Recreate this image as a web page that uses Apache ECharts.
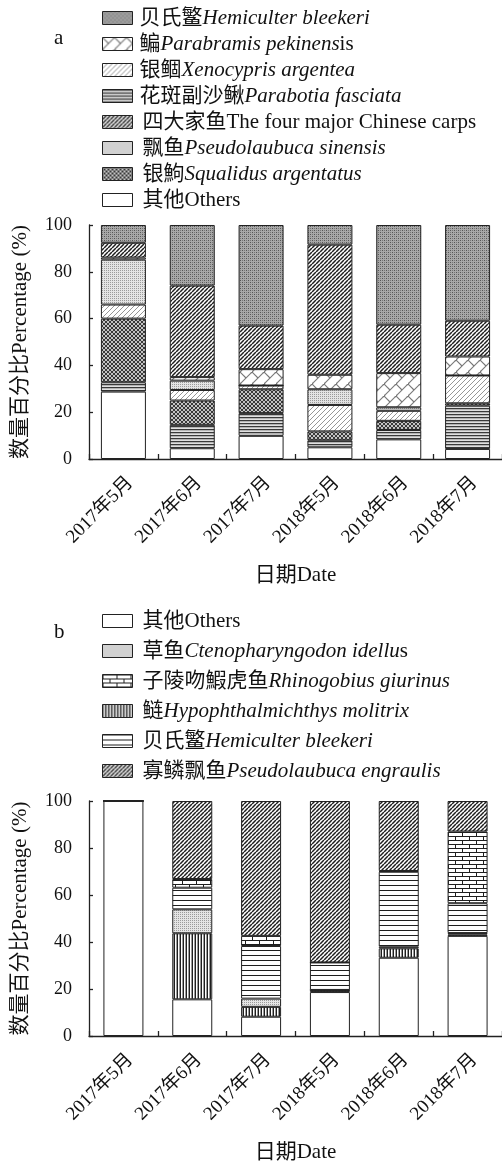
<!DOCTYPE html>
<html>
<head>
<meta charset="utf-8">
<script src="https://cdn.jsdelivr.net/npm/echarts@6/dist/echarts.min.js"></script>
<style>
  html, body { margin: 0; padding: 0; background: #fff; }
  #chartA { position: absolute; left: 0; top: 0; width: 502px; height: 600px; }
  #chartB { position: absolute; left: 0; top: 600px; width: 502px; height: 565px; }
</style>
</head>
<body>
<div id="chartA"></div>
<div id="chartB"></div>
<script>
// ---- data ----
const dates = ['2017年5月', '2017年6月', '2017年7月', '2018年5月', '2018年6月', '2018年7月'];

// Panel a: percentage of catch by number (stacked bottom -> top)
const aOthers     = [28.8, 4.6, 9.9, 5.0, 8.4, 4.3];
const aParabotia  = [4.0, 10.0, 9.7, 3.0, 4.0, 18.5];
const aSqualidus  = [27.2, 10.4, 10.2, 3.8, 3.9, 1.0];
const aXenocypris = [6.0, 4.5, 1.6, 11.3, 4.3, 11.9];
const aSinensis   = [19.2, 4.0, 0, 6.7, 1.5, 0];
const aParabramis = [0.9, 1.5, 7.0, 6.2, 14.6, 8.1];
const aCarps      = [6.3, 39.1, 18.6, 55.6, 20.7, 15.3];
const aHemiculter = [7.6, 25.9, 43.0, 8.4, 42.6, 40.9];

// Panel b
const bOthers      = [100, 15.6, 8.2, 18.7, 33.3, 42.6];
const bSilverCarp  = [0, 28.1, 4.2, 0.9, 4.0, 0.6];
const bGrassCarp   = [0, 10.2, 3.5, 0, 0.7, 0.6];
const bHemiculter  = [0, 9.2, 22.4, 11.7, 31.9, 12.7];
const bRhinogobius = [0, 3.7, 4.3, 0, 0.3, 30.5];
const bEngraulis   = [0, 33.2, 57.4, 68.7, 29.8, 13.0];

const yTicks = [0, 20, 40, 60, 80, 100];

// ---- fill patterns ----
function tile(w, h, draw) {
  const c = document.createElement('canvas');
  c.width = w; c.height = h;
  const g = c.getContext('2d');
  draw(g, w, h);
  return { image: c, repeat: 'repeat' };
}
function px(g, x, y, col) { g.fillStyle = col; g.fillRect(x, y, 1, 1); }
function diag(g, s, col, lw) {
  g.strokeStyle = col; g.lineWidth = lw;
  for (let k = -1; k <= 1; k++) {
    g.beginPath(); g.moveTo(k * s, s); g.lineTo(k * s + s, 0); g.stroke();
  }
}
const patWhite = '#ffffff';
const patGreyDots = tile(4, 4, (g) => {
  g.fillStyle = '#a8a8a8'; g.fillRect(0, 0, 4, 4);
  px(g, 0, 0, '#555'); px(g, 2, 2, '#555'); px(g, 2, 0, '#777'); px(g, 0, 2, '#777');
});
const patTrellis = tile(12, 12, (g) => {
  g.fillStyle = '#fff'; g.fillRect(0, 0, 12, 12);
  g.strokeStyle = '#777'; g.lineWidth = 1.1;
  g.beginPath(); g.moveTo(0, 12); g.lineTo(12, 0); g.stroke();
  g.beginPath(); g.moveTo(-1, 13); g.lineTo(1, 11); g.stroke();
  g.beginPath(); g.moveTo(11, 1); g.lineTo(13, -1); g.stroke();
  g.beginPath(); g.moveTo(0, 0); g.lineTo(6, 6); g.stroke();
});
const patLightDiag = tile(5, 5, (g) => {
  g.fillStyle = '#fff'; g.fillRect(0, 0, 5, 5);
  diag(g, 5, '#8a8a8a', 0.9);
});
const patDenseHoriz = tile(1, 3, (g) => {
  g.fillStyle = '#3a3a3a'; g.fillRect(0, 0, 1, 1);
  g.fillStyle = '#b4b4b4'; g.fillRect(0, 1, 1, 1);
  g.fillStyle = '#e0e0e0'; g.fillRect(0, 2, 1, 1);
});
const patDarkDiag = tile(4, 4, (g) => {
  g.fillStyle = '#fff'; g.fillRect(0, 0, 4, 4);
  diag(g, 4, '#1e1e1e', 1.5);
});
const patLightDots = tile(2, 2, (g) => {
  g.fillStyle = '#e4e4e4'; g.fillRect(0, 0, 2, 2);
  px(g, 0, 0, '#9a9a9a');
});
const patDarkWeave = tile(4, 4, (g) => {
  g.fillStyle = '#c4c4c4'; g.fillRect(0, 0, 4, 4);
  for (let i = 0; i < 4; i++) { px(g, i, i, '#3a3a3a'); px(g, i, 3 - i, '#3a3a3a'); }
});
const patBrick = tile(14, 8, (g) => {
  g.fillStyle = '#fff'; g.fillRect(0, 0, 14, 8);
  g.fillStyle = '#1e1e1e';
  g.fillRect(0, 0, 14, 1); g.fillRect(0, 4, 14, 1);
  g.fillRect(0, 0, 1, 4); g.fillRect(7, 4, 1, 4);
});
const patVert = tile(3, 1, (g) => {
  g.fillStyle = '#1e1e1e'; g.fillRect(0, 0, 1, 1);
  g.fillStyle = '#ffffff'; g.fillRect(1, 0, 1, 1);
  g.fillStyle = '#9a9a9a'; g.fillRect(2, 0, 1, 1);
});
const patSparseHoriz = tile(1, 5, (g) => {
  g.fillStyle = '#fff'; g.fillRect(0, 0, 1, 5);
  g.fillStyle = '#1e1e1e'; g.fillRect(0, 0, 1, 1);
});

// ---- shared styling ----
const FONT = '"Liberation Serif", "Times New Roman", "Noto Sans CJK SC", serif';
const INK = '#111';
const rich = {
  i: { fontFamily: FONT, fontSize: 21, fontStyle: 'italic', color: INK, lineHeight: 22 },
  p: { fontFamily: FONT, fontSize: 12, lineHeight: 22 }
};

function buildOption(cfg) {
  const series = cfg.layers.map((L) => ({
    name: L.name,
    type: 'bar',
    stack: 'total',
    barWidth: cfg.barWidth,
    data: L.data,
    itemStyle: { color: L.fill, borderColor: '#222', borderWidth: 1 },
    emphasis: { disabled: true },
    animation: false
  }));
  const labelOf = {};
  cfg.layers.forEach((L) => { labelOf[L.name] = L.label; });
  return {
    animation: false,
    textStyle: { fontFamily: FONT, color: INK },
    graphic: [{
      type: 'text', left: 54, top: cfg.tagTop,
      style: { text: cfg.tag, fontFamily: FONT, fontSize: 21, fill: INK }
    }],
    legend: {
      orient: 'vertical',
      left: 102,
      top: cfg.legendTop,
      padding: 0,
      itemGap: cfg.legendGap,
      itemWidth: 30,
      itemHeight: 13,
      icon: 'rect',
      selectedMode: false,
      data: cfg.legendOrder,
      itemStyle: { borderColor: '#222', borderWidth: 1 },
      textStyle: { fontFamily: FONT, fontSize: 21, color: INK, lineHeight: 22, padding: [0, 0, 0, 2], rich: rich },
      formatter: (n) => labelOf[n]
    },
    grid: { left: 89, top: cfg.gridTop, width: cfg.gridWidth, height: cfg.gridHeight },
    xAxis: {
      type: 'category',
      data: dates,
      name: '日期Date',
      nameLocation: 'middle',
      nameGap: 106,
      nameTextStyle: { fontFamily: FONT, fontSize: 21, color: INK },
      axisLine: { lineStyle: { color: '#222', width: 1.3 } },
      axisTick: { show: true, inside: true, length: 5, alignWithLabel: false, lineStyle: { color: '#222', width: 1.3 } },
      axisLabel: { rotate: 45, margin: 14, verticalAlign: 'top', fontFamily: FONT, fontSize: 19, color: INK, interval: 0 }
    },
    yAxis: {
      type: 'value',
      min: 0, max: 100, interval: 20,
      name: '数量百分比Percentage (%)',
      nameLocation: 'middle',
      nameRotate: 90,
      nameGap: 58,
      nameTextStyle: { fontFamily: FONT, fontSize: 21, color: INK },
      splitLine: { show: false },
      axisLine: { show: true, lineStyle: { color: '#222', width: 1.3 } },
      axisTick: { show: true, inside: true, length: 4, lineStyle: { color: '#222', width: 1.3 } },
      axisLabel: {
        margin: 17, fontFamily: FONT, fontSize: 18, color: INK,
        formatter: (v) => (yTicks.indexOf(v) >= 0 ? String(v) : '')
      }
    },
    series: series
  };
}

// Panel a
const optA = buildOption({
  tag: 'a', tagTop: 28,
  legendTop: 7, legendGap: 4,
  gridTop: 225, gridHeight: 234, gridWidth: 416, barWidth: 45,
  layers: [
    { name: 'others', data: aOthers, fill: patWhite, label: '{p| }其他Others' },
    { name: 'parabotia', data: aParabotia, fill: patDenseHoriz, label: '花斑副沙鳅{i|Parabotia fasciata}' },
    { name: 'squalidus', data: aSqualidus, fill: patDarkWeave, label: '{p| }银鮈{i|Squalidus argentatus}' },
    { name: 'xenocypris', data: aXenocypris, fill: patLightDiag, label: '银鲴{i|Xenocypris argentea}' },
    { name: 'sinensis', data: aSinensis, fill: patLightDots, label: '{p| }飘鱼{i|Pseudolaubuca sinensis}' },
    { name: 'parabramis', data: aParabramis, fill: patTrellis, label: '鳊{i|Parabramis pekinens}is' },
    { name: 'carps', data: aCarps, fill: patDarkDiag, label: '{p| }四大家鱼The four major Chinese carps' },
    { name: 'hemiculter', data: aHemiculter, fill: patGreyDots, label: '贝氏鳘{i|Hemiculter bleekeri}' }
  ],
  legendOrder: ['hemiculter', 'parabramis', 'xenocypris', 'parabotia', 'carps', 'sinensis', 'squalidus', 'others']
});

// Panel b
const optB = buildOption({
  tag: 'b', tagTop: 22,
  legendTop: 10, legendGap: 8,
  gridTop: 201, gridHeight: 235, gridWidth: 417, barWidth: 40,
  layers: [
    { name: 'others', data: bOthers, fill: patWhite, label: '{p| }其他Others' },
    { name: 'silver', data: bSilverCarp, fill: patVert, label: '{p| }鲢{i|Hypophthalmichthys molitrix}' },
    { name: 'grass', data: bGrassCarp, fill: patLightDots, label: '{p| }草鱼{i|Ctenopharyngodon idellu}s' },
    { name: 'hemiculter', data: bHemiculter, fill: patSparseHoriz, label: '{p| }贝氏鳘{i|Hemiculter bleekeri}' },
    { name: 'rhinogobius', data: bRhinogobius, fill: patBrick, label: '{p| }子陵吻鰕虎鱼{i|Rhinogobius giurinus}' },
    { name: 'engraulis', data: bEngraulis, fill: patDarkDiag, label: '{p| }寡鳞飘鱼{i|Pseudolaubuca engraulis}' }
  ],
  legendOrder: ['others', 'grass', 'rhinogobius', 'silver', 'hemiculter', 'engraulis']
});

echarts.init(document.getElementById('chartA'), null, { renderer: 'canvas' }).setOption(optA);
echarts.init(document.getElementById('chartB'), null, { renderer: 'canvas' }).setOption(optB);
</script>
</body>
</html>
